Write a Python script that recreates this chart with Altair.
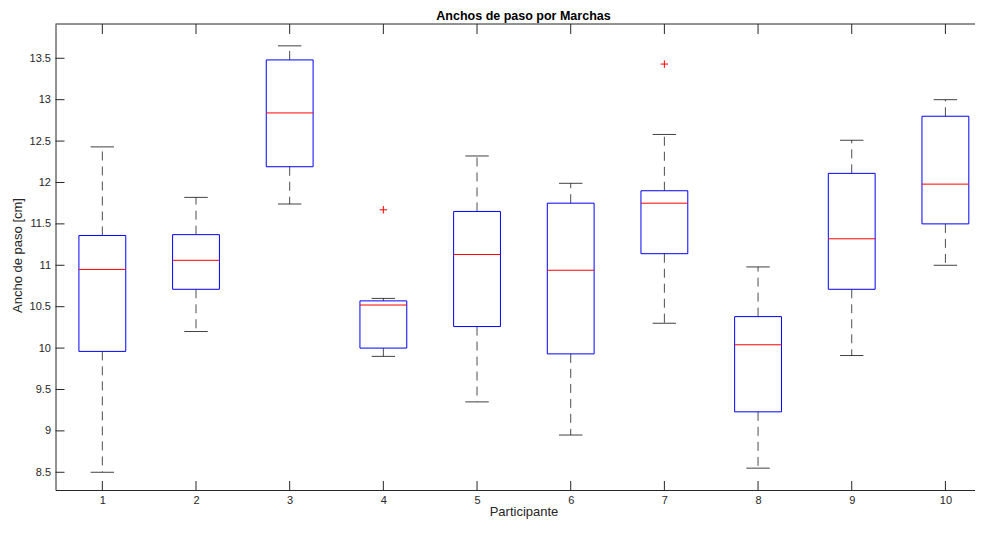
import altair as alt
import pandas as pd

# ---- data ----
participants = [1, 2, 3, 4, 5, 6, 7, 8, 9, 10]
lower_whisker = [8.50, 10.20, 11.74, 9.90, 9.35, 8.95, 10.30, 8.55, 9.91, 11.00]
q1 = [9.96, 10.71, 12.19, 10.00, 10.26, 9.93, 11.14, 9.23, 10.71, 11.50]
median = [10.95, 11.06, 12.84, 10.52, 11.13, 10.94, 11.75, 10.04, 11.32, 11.98]
q3 = [11.36, 11.37, 13.48, 10.57, 11.65, 11.75, 11.90, 10.38, 12.11, 12.80]
upper_whisker = [12.43, 11.82, 13.65, 10.60, 12.32, 11.99, 12.58, 10.98, 12.51, 13.00]
outlier_participant = [4, 7]
outlier_value = [11.67, 13.43]
y_ticks = [8.5, 9, 9.5, 10, 10.5, 11, 11.5, 12, 12.5, 13, 13.5]
x_ticks = participants

title_text = "Anchos de paso por Marchas"
x_title = "Participante"
y_title = "Ancho de paso [cm]"

# ---- layout / style ----
W, H = 919.5, 466
PAD = {"left": 47.5, "top": 16, "right": 0, "bottom": 29}
FONT = "Liberation Sans"
AX = "#262626"
BLUE = "#0000FF"
RED = "#FF0000"

df = pd.DataFrame({
    "p": participants, "lw": lower_whisker, "q1": q1, "med": median,
    "q3": q3, "uw": upper_whisker,
})
out_df = pd.DataFrame({"p": outlier_participant, "v": outlier_value})
yt_df = pd.DataFrame({"t": y_ticks})
xt_df = pd.DataFrame({"t": x_ticks})
title_df = pd.DataFrame({"t": [title_text]})

xs = alt.Scale(domain=[0.5, 10.316], nice=False, zero=False)
ys = alt.Scale(domain=[8.286, 13.914], nice=False, zero=False)

xax = alt.Axis(values=x_ticks, title=x_title, format="d", labelPadding=4,
               labelBaseline="top", titleX=468, titleY=25.5,
               titleBaseline="alphabetic", titleAlign="center")
yax = alt.Axis(values=y_ticks, title=y_title, format="~g", labelPadding=5,
               titleX=-34.5, titleY=231, titleBaseline="alphabetic",
               titleAlign="center", titleAngle=270)

base = alt.Chart(df).transform_calculate(
    xl="datum.p - 0.25", xr="datum.p + 0.25",
    cl="datum.p - 0.125", cr="datum.p + 0.125",
)

box = base.mark_rect(fill="transparent", stroke=BLUE, strokeWidth=1).encode(
    x=alt.X("xl:Q", scale=xs, axis=xax), x2="xr:Q",
    y=alt.Y("q1:Q", scale=ys, axis=yax), y2="q3:Q",
)

med = base.mark_rule(color=RED, strokeWidth=1).encode(
    x=alt.X("xl:Q", scale=xs, axis=xax), x2="xr:Q",
    y=alt.Y("med:Q", scale=ys, axis=yax),
)

wh_up = base.mark_rule(color="#000000", strokeWidth=1, strokeDash=[9, 6], opacity=0.7).encode(
    x=alt.X("p:Q", scale=xs, axis=xax),
    y=alt.Y("q3:Q", scale=ys, axis=yax), y2="uw:Q",
)
wh_lo = base.mark_rule(color="#000000", strokeWidth=1, strokeDash=[9, 6], opacity=0.7).encode(
    x=alt.X("p:Q", scale=xs, axis=xax),
    y=alt.Y("q1:Q", scale=ys, axis=yax), y2="lw:Q",
)
cap_up = base.mark_rule(color="#000000", strokeWidth=1, opacity=0.75).encode(
    x=alt.X("cl:Q", scale=xs, axis=xax), x2="cr:Q",
    y=alt.Y("uw:Q", scale=ys, axis=yax),
)
cap_lo = base.mark_rule(color="#000000", strokeWidth=1, opacity=0.75).encode(
    x=alt.X("cl:Q", scale=xs, axis=xax), x2="cr:Q",
    y=alt.Y("lw:Q", scale=ys, axis=yax),
)

outl = alt.Chart(out_df).mark_point(
    shape="M-1,0L1,0M0,-1L0,1", filled=False, stroke=RED, strokeWidth=1,
    size=56, opacity=1,
).encode(
    x=alt.X("p:Q", scale=xs, axis=xax),
    y=alt.Y("v:Q", scale=ys, axis=yax),
)

# inward ticks (MATLAB style) and top frame line
tick_left = alt.Chart(yt_df).mark_rule(color=AX, strokeWidth=1).encode(
    y=alt.Y("t:Q", scale=ys, axis=yax), x=alt.value(0), x2=alt.value(9),
)
tick_top = alt.Chart(xt_df).mark_rule(color=AX, strokeWidth=1).encode(
    x=alt.X("t:Q", scale=xs, axis=xax), y=alt.value(0), y2=alt.value(10),
)
tick_bot = alt.Chart(xt_df).mark_rule(color=AX, strokeWidth=1).encode(
    x=alt.X("t:Q", scale=xs, axis=xax), y=alt.value(H - 9), y2=alt.value(H),
)
top_line = alt.Chart(xt_df.head(1)).mark_rule(color=AX, strokeWidth=1).encode(
    x=alt.value(0), x2=alt.value(W), y=alt.value(0),
)

# chart title drawn as a text mark above the plot
title_mark = alt.Chart(title_df).mark_text(
    font=FONT, fontSize=12.5, fontWeight="bold", color="#000000",
    align="center", baseline="alphabetic",
).encode(text="t:N", x=alt.value(468), y=alt.value(-4.5))

chart = alt.layer(
    wh_up, wh_lo, cap_up, cap_lo, box, med, outl,
    tick_left, tick_top, tick_bot, top_line, title_mark,
).properties(
    width=W, height=H,
    padding=PAD,
    autosize=alt.AutoSizeParams(type="none"),
).configure_axis(
    labelFont=FONT, labelFontSize=11, labelColor=AX,
    titleFont=FONT, titleFontSize=13, titleFontWeight="normal", titleColor=AX,
    domainColor=AX, domainWidth=1, ticks=False, tickSize=0, grid=False,
).configure_view(stroke="transparent")

chart.save("out.html", embed_options={"renderer": "svg", "actions": False})
